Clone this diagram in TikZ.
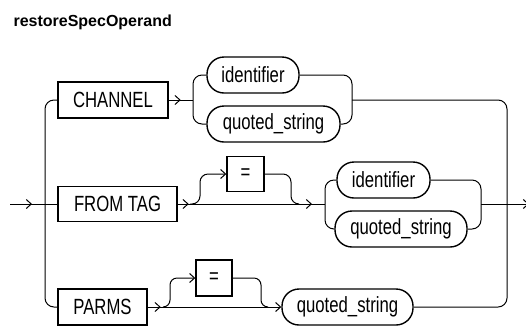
\documentclass[tikz,border=0pt]{standalone}
\usepackage{fontspec}
\setmainfont{Liberation Sans}
\newfontfamily\narrowsans[FakeStretch=0.76]{Liberation Sans}
\usetikzlibrary{arrows.meta,decorations.markings}
\begin{document}
\begin{tikzpicture}[x=1pt,y=-1pt,
  kw/.style={draw, line width=1.4pt, rectangle, inner sep=0pt, minimum height=36pt,
     font=\narrowsans\fontsize{22}{26}\selectfont},
  ov/.style={kw, rounded corners=17pt},
  ln/.style={line width=1pt},
  tip/.style={-{Straight Barb[length=5pt,width=9pt]}},
  arrat/.style={postaction={decorate,decoration={markings,
     mark=at position #1 with {\arrow{Straight Barb[length=5pt,width=9pt]}}}}}]
\useasboundingbox (0,0) rectangle (526,325);
\node[anchor=base west, font=\bfseries\fontsize{16}{19}\selectfont] (title) at (10,26.5) {restoreSpecOperand};

% row A
\node[kw, minimum width=110pt] (chan) at (113,100) {CHANNEL};
\node[ov, minimum width=92pt] (id1) at (253,75) {identifier};
\node[ov, minimum width=133pt] (qs1) at (273.5,124) {quoted\_string};
% row B
\node[kw, minimum width=119pt, minimum height=35pt] (fromtag) at (117.5,204) {FROM TAG};
\node[kw, minimum width=37pt, minimum height=35pt] (eq1) at (245.5,174) {=};
\node[ov, minimum width=93pt] (id2) at (383.5,180) {identifier};
\node[ov, minimum width=132pt] (qs2) at (401,229) {quoted\_string};
% row C
\node[kw, minimum width=89pt] (parms) at (102.5,307) {PARMS};
\node[kw, minimum width=36pt] (eq2) at (214,278) {=};
\node[ov, minimum width=131pt] (qs3) at (347.5,307) {quoted\_string};

\coordinate (in) at (10,204);
\coordinate (out) at (529,204);

% entry and left bus
\draw[ln, arrat=22pt] (in) -- (fromtag.west);
\draw[ln, rounded corners=9pt] (chan.west) -- (45,100) -- (45,307) -- (parms.west);

% row A connectors
\draw[ln, arrat=12pt] (chan.east) -- (193,100);
\draw[ln, rounded corners=9pt] (id1.west) -- (193,75) -- (193,124) -- (qs1.west);
\draw[ln, rounded corners=9pt] (id1.east) -- (352,75) -- (352,124) -- (qs1.east);
\draw[ln, rounded corners=9pt] (352,100) -- (507,100) -- (507,307) -- (qs3.east);

% row B connectors
\draw[ln, arrat=11pt, arrat=-13pt] (fromtag.east) -- (325,204);
\draw[ln, tip, rounded corners=8pt] (190,204) -- (200,204) -- (200,174) -- (eq1.west);
\draw[ln, rounded corners=8pt] (eq1.east) -- (291,174) -- (291,204) -- (299,204);
\draw[ln, rounded corners=9pt] (id2.west) -- (325,180) -- (325,229) -- (qs2.west);
\draw[ln, rounded corners=9pt] (id2.east) -- (481,180) -- (481,229) -- (qs2.east);
\draw[ln, tip] (481,204) -- (out);

% row C connectors
\draw[ln, tip, arrat=13pt] (parms.east) -- (qs3.west);
\draw[ln, tip, rounded corners=7pt] (163,307) -- (170,307) -- (170,278) -- (eq2.west);
\draw[ln, rounded corners=7pt] (eq2.east) -- (261,278) -- (261,307) -- (268,307);
\end{tikzpicture}
\end{document}
